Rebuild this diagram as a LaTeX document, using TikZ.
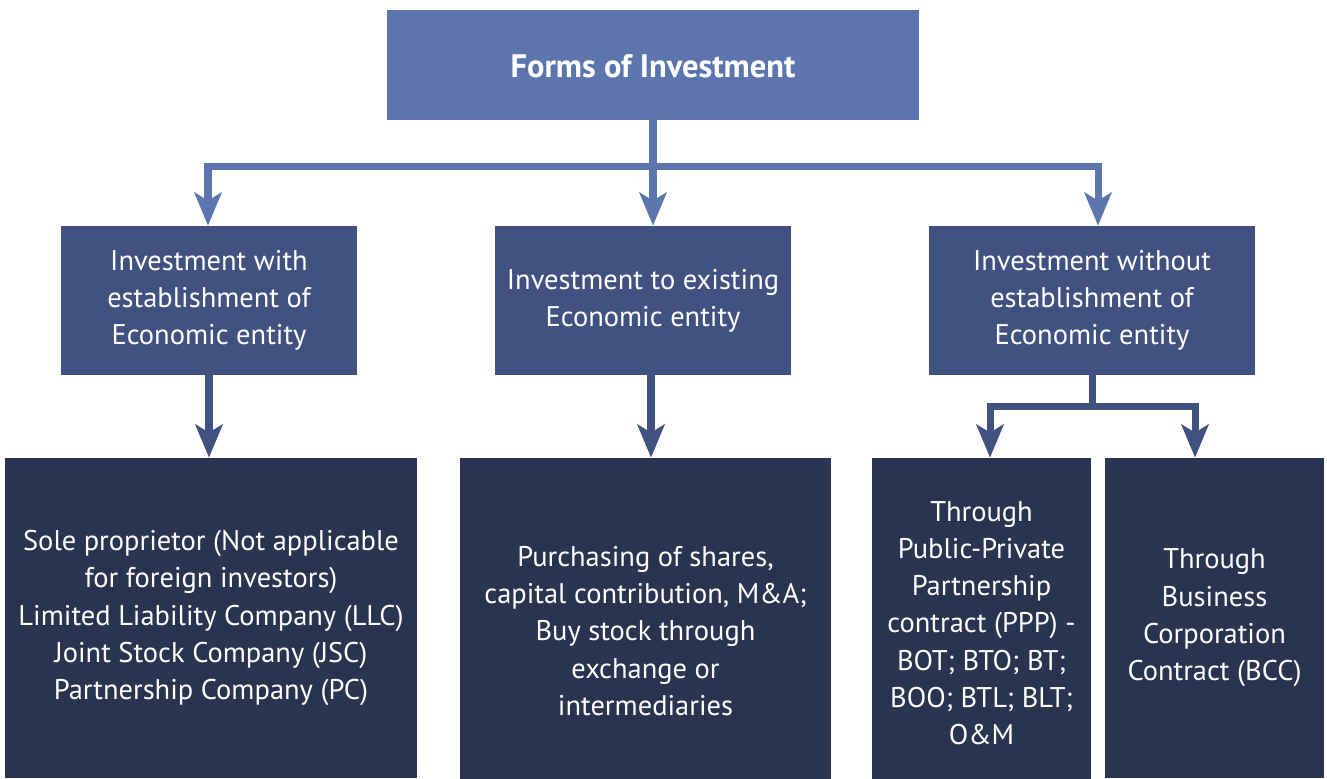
\documentclass[tikz,border=0pt]{standalone}
\usepackage{fontspec}
\setmainfont{PT Sans}
\usetikzlibrary{arrows.meta,calc,positioning}
\definecolor{topblue}{RGB}{92,118,173}
\definecolor{midblue}{RGB}{66,82,128}
\definecolor{lowblue}{RGB}{42,52,80}

\begin{document}
\begin{tikzpicture}[>=Stealth,
  box/.style={fill=#1,text=white,align=center,inner sep=0pt,
    font=\fontsize{16.2}{21.2}\selectfont},
  link/.style={draw=#1,line width=4pt,
    -{Stealth[length=6.6mm,width=5.4mm,inset=1.6mm]}}]
  \useasboundingbox (0,0) rectangle (26.54,-15.56);

  \node[box=topblue,minimum width=10.64cm,minimum height=2.2cm,text height=15pt,text depth=1pt,
    font=\fontsize{18.5}{22}\selectfont\bfseries] (forms) at (13.06,-1.30) {Forms of Investment};

  \node[box=midblue,minimum width=5.92cm,minimum height=2.98cm] (with) at (4.18,-6.01)
    {Investment with\\establishment of\\Economic entity};
  \node[box=midblue,minimum width=5.92cm,minimum height=2.98cm] (exist) at (12.86,-6.01)
    {Investment to existing\\Economic entity};
  \node[box=midblue,minimum width=6.52cm,minimum height=2.98cm] (without) at (21.84,-6.01)
    {Investment without\\establishment of\\Economic entity};

  % bottom row runs past the lower page edge
  \node[box=lowblue,minimum width=8.24cm,minimum height=6.4cm] (sole) at (4.22,-12.36)
    {Sole proprietor (Not applicable\\for foreign investors)\\Limited Liability Company (LLC)\\Joint Stock Company (JSC)\\Partnership Company (PC)};
  \node[box=lowblue,minimum width=7.42cm,minimum height=6.92cm] (shares) at (12.91,-12.62)
    {Purchasing of shares,\\capital contribution, M\&A;\\Buy stock through\\exchange or\\intermediaries};
  \node[box=lowblue,minimum width=4.38cm,minimum height=6.6cm] (ppp) at (19.63,-12.46)
    {Through\\Public-Private\\Partnership\\contract (PPP) -\\BOT; BTO; BT;\\BOO; BTL; BLT;\\O\&M};
  \node[box=lowblue,minimum width=4.38cm,minimum height=6.4cm] (bcc) at (24.29,-12.36)
    {Through\\Business\\Corporation\\Contract (BCC)};

  % first level
  \draw[link=topblue] (forms.south) -- (forms.south |- exist.north);
  \draw[link=topblue] (forms.south) -- ++(0,-0.92) -| ([xshift=-0.02cm]with.north);
  \draw[link=topblue] (forms.south) -- ++(0,-0.92) -| ([xshift=0.12cm]without.north);

  % second level
  \draw[link=midblue,line width=4.5pt] (with.south) -- (with.south |- sole.north);
  \draw[link=midblue,line width=4.5pt] ([xshift=0.16cm]exist.south) -- ([xshift=0.16cm]exist.south |- shares.north);
  \draw[link=midblue] (without.south) -- ++(0,-0.62) -| ([xshift=0.17cm]ppp.north);
  \draw[link=midblue] (without.south) -- ++(0,-0.62) -| ([xshift=-0.39cm]bcc.north);
\end{tikzpicture}
\end{document}
